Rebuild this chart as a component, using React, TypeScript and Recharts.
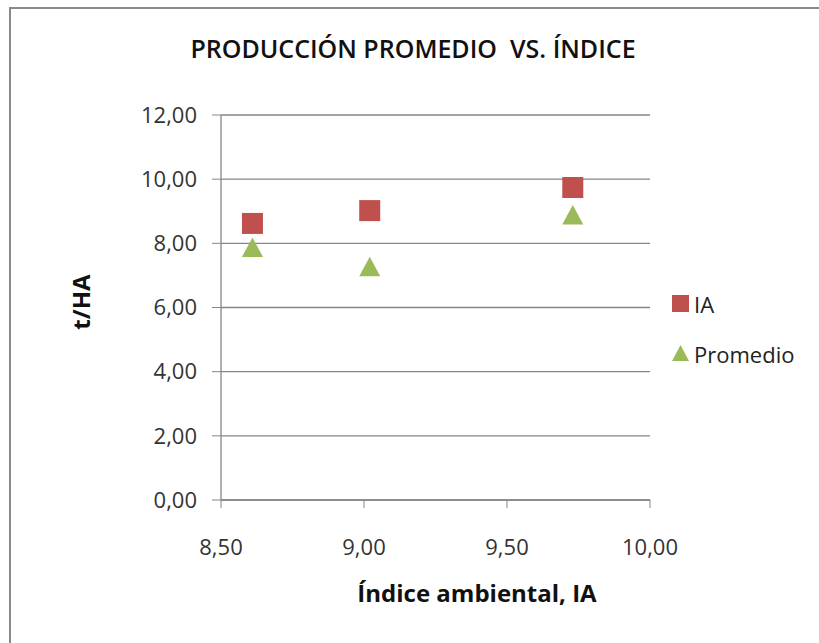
import {
  CartesianGrid,
  Scatter,
  ScatterChart,
  XAxis,
  YAxis,
  Label,
} from "recharts";

// Índice ambiental (x) for each environment
const indiceAmbiental = [8.61, 9.02, 9.73];
// series values (t/HA)
const valoresIA = [8.62, 9.02, 9.74];
const valoresPromedio = [7.88, 7.28, 8.89];

const xTicks = [8.5, 9.0, 9.5, 10.0];
const yTicks = [0, 2, 4, 6, 8, 10, 12];

const RED = "#C0504D";
const GREEN = "#9BBB59";
const FONT = "'Open Sans', sans-serif";

const iaData = indiceAmbiental.map((x, i) => ({ x, y: valoresIA[i] }));
const promData = indiceAmbiental.map((x, i) => ({ x, y: valoresPromedio[i] }));

const fmt = (v: number) => v.toFixed(2).replace(".", ",");

// Excel-style markers, centred on their bounding box
function SquareMark(props: any) {
  const { cx, cy } = props;
  const s = 10.5;
  return <rect x={cx - s} y={cy - s} width={s * 2} height={s * 2} fill={RED} />;
}

function TriangleMark(props: any) {
  const { cx, cy } = props;
  const w = 10.5;
  const h = 9.7;
  return (
    <path
      d={`M${cx},${cy - h} L${cx + w},${cy + h} L${cx - w},${cy + h} Z`}
      fill={GREEN}
    />
  );
}

function LegendBox() {
  const row = { display: "flex", alignItems: "center", height: 25 } as const;
  const txt = { fontFamily: FONT, fontSize: 22, color: "#222", marginLeft: 5 };
  return (
    <div style={{ position: "absolute", left: 672, top: 291 }}>
      <div style={row}>
        <svg width={17} height={17}>
          <rect x={0} y={0} width={17} height={17} fill={RED} />
        </svg>
        <span style={txt}>IA</span>
      </div>
      <div style={{ ...row, marginTop: 25 }}>
        <svg width={17} height={17}>
          <path d="M8.5,0 L17,16 L0,16 Z" fill={GREEN} />
        </svg>
        <span style={txt}>Promedio</span>
      </div>
    </div>
  );
}

export default function App() {
  return (
    <div
      style={{
        position: "absolute",
        left: 0,
        top: 0,
        width: 819,
        height: 643,
        background: "#fff",
        overflow: "hidden",
      }}
    >
      <div
        style={{
          position: "absolute",
          left: 9,
          top: 7,
          width: 830,
          height: 700,
          borderTop: "2.5px solid #8a8a8a",
          borderLeft: "2.5px solid #8a8a8a",
        }}
      />
      <div
        style={{
          position: "absolute",
          left: 0,
          top: 31,
          width: 826,
          textAlign: "center",
          fontFamily: FONT,
          fontSize: 25,
          fontWeight: 600,
          color: "#111",
        }}
      >
        PRODUCCIÓN PROMEDIO&nbsp; VS. ÍNDICE
      </div>
      <ScatterChart
        width={819}
        height={643}
        margin={{ top: 115, right: 169, bottom: 63, left: 141 }}
        style={{ position: "absolute", left: 0, top: 0 }}
      >
        <CartesianGrid
          horizontal
          vertical={false}
          stroke="#868686"
          strokeWidth={1.3}
        />
        <XAxis
          type="number"
          dataKey="x"
          domain={[8.5, 10]}
          ticks={xTicks}
          tickFormatter={fmt}
          height={80}
          stroke="#868686"
          tickSize={8}
          axisLine={{ stroke: "#868686", strokeWidth: 1.3 }}
          tick={{ fontFamily: FONT, fontSize: 22, fill: "#333", dy: 29 }}
          allowDataOverflow
        >
          <Label
            content={() => (
              <text
                x={477}
                y={602}
                textAnchor="middle"
                fontFamily={FONT}
                fontWeight={700}
                fontSize={24}
                fill="#111"
              >
                Índice ambiental, IA
              </text>
            )}
          />
        </XAxis>
        <YAxis
          type="number"
          dataKey="y"
          domain={[0, 12]}
          ticks={yTicks}
          tickFormatter={fmt}
          width={80}
          stroke="#868686"
          tickSize={9}
          axisLine={{ stroke: "#868686", strokeWidth: 1.3 }}
          tick={{ fontFamily: FONT, fontSize: 22, fill: "#333", dx: -13 }}
        >
          <Label
            content={() => (
              <text
                x={0}
                y={0}
                transform="translate(90,302) rotate(-90)"
                textAnchor="middle"
                fontFamily={FONT}
                fontWeight={700}
                fontSize={24}
                fill="#111"
              >
                t/HA
              </text>
            )}
          />
        </YAxis>
        <Scatter
          name="IA"
          data={iaData}
          shape={<SquareMark />}
          isAnimationActive={false}
        />
        <Scatter
          name="Promedio"
          data={promData}
          shape={<TriangleMark />}
          isAnimationActive={false}
        />
      </ScatterChart>
      <LegendBox />
    </div>
  );
}
